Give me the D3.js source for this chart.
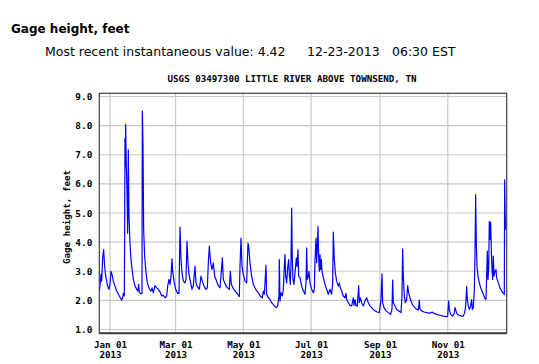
<!DOCTYPE html>
<html>
<head>
<meta charset="utf-8">
<script src="https://cdn.jsdelivr.net/npm/d3@7"></script>
<style>
  html, body { margin: 0; padding: 0; background: #fff; }
  svg { display: block; }
</style>
</head>
<body>
<svg id="chart" width="539" height="364"></svg>
<script>
// ---- data ----
const pageTitle = "Gage height, feet";
const recentLabel = "Most recent instantaneous value: 4.42";
const recentDate = "12-23-2013";
const recentTime = "06:30 EST";
const chartTitle = "USGS 03497300 LITTLE RIVER ABOVE TOWNSEND, TN";
const yAxisTitle = "Gage height, feet";

// time since 2013-01-01 00:00 UTC, in days
const daysSinceJan1 = [
  -9.6, -8.1, -7.5, -6.6, -5.7, -4.8, -3.9, -3.0, -2.1, -0.9,
  0.0, 0.9, 1.8, 3.0, 4.5, 6.0, 8.4, 10.5, 11.4, 12.0,
  12.9, 13.2, 13.5, 13.8, 14.1, 14.7, 15.3, 15.9, 16.5, 17.1,
  18.0, 18.9, 20.1, 21.0, 22.5, 24.0, 24.9, 25.8, 26.4, 27.9,
  28.8, 29.1, 29.7, 30.3, 31.2, 32.4, 33.6, 35.4, 36.9, 37.8,
  39.0, 40.5, 42.0, 43.5, 45.0, 46.5, 48.0, 49.5, 51.0, 51.9,
  53.1, 54.0, 54.9, 55.8, 56.4, 57.6, 59.1, 60.9, 62.1, 63.0,
  63.9, 64.8, 66.0, 67.5, 68.4, 69.3, 70.2, 71.1, 72.6, 73.8,
  75.0, 76.5, 77.4, 78.6, 80.4, 81.9, 83.1, 84.6, 86.4, 87.6,
  88.5, 89.4, 90.6, 91.8, 93.0, 94.2, 95.4, 96.9, 99.0, 100.2,
  101.1, 102.0, 103.8, 105.6, 107.4, 108.3, 109.2, 111.0, 113.1, 114.9,
  116.4, 117.0, 117.9, 118.8, 120.0, 121.5, 123.0, 124.2, 124.8, 126.0,
  127.5, 129.0, 131.1, 133.5, 135.6, 137.1, 138.0, 138.9, 140.4, 141.0,
  142.5, 144.0, 145.5, 147.6, 149.4, 150.9, 152.1, 152.4, 153.0, 153.9,
  155.1, 156.0, 156.9, 157.5, 158.1, 159.0, 159.9, 160.8, 161.4, 162.3,
  162.9, 163.5, 164.1, 164.7, 165.6, 166.8, 167.7, 168.3, 169.2, 169.8,
  171.0, 172.5, 174.0, 175.5, 176.4, 177.0, 177.6, 178.5, 179.1, 180.0,
  181.5, 183.0, 183.9, 184.5, 185.4, 186.0, 186.6, 187.2, 187.8, 188.4,
  189.0, 189.6, 190.2, 190.8, 192.0, 193.5, 195.0, 196.5, 198.0, 199.5,
  200.4, 201.0, 201.9, 202.8, 204.0, 205.5, 206.4, 207.3, 208.5, 210.0,
  211.5, 212.4, 213.0, 214.5, 216.0, 217.5, 219.0, 219.6, 220.5, 221.4,
  222.6, 223.8, 224.4, 225.3, 226.5, 228.0, 229.8, 231.0, 232.5, 234.0,
  235.5, 237.0, 238.5, 240.6, 242.4, 243.9, 244.8, 245.4, 246.6, 248.4,
  250.5, 252.6, 253.8, 254.4, 255.0, 256.5, 258.0, 259.8, 261.9, 262.8,
  263.4, 264.0, 264.9, 265.8, 267.0, 267.9, 268.8, 270.0, 271.5, 273.0,
  274.5, 276.0, 277.5, 278.4, 279.0, 280.5, 282.6, 285.0, 288.0, 290.1,
  291.0, 294.0, 297.0, 300.0, 303.0, 303.9, 304.8, 305.4, 306.6, 308.4,
  309.9, 310.5, 311.4, 312.6, 314.4, 316.5, 318.0, 319.2, 320.1, 321.0,
  321.6, 322.5, 323.4, 324.6, 325.5, 326.1, 327.0, 327.9, 328.5, 329.1,
  329.7, 330.3, 331.2, 332.4, 333.6, 334.8, 336.0, 337.5, 338.4, 339.0,
  339.6, 340.2, 340.8, 341.4, 342.0, 342.6, 343.2, 343.8, 344.4, 345.0,
  345.6, 346.5, 347.4, 348.0, 349.5, 351.0, 352.5, 354.0, 354.9, 355.2,
  355.8, 356.1
];
const gageHeightFt = [
  2.26, 2.89, 2.66, 3.46, 3.74, 3.17, 2.83, 2.66, 2.49, 2.38,
  2.55, 3.00, 2.89, 2.66, 2.49, 2.32, 2.15, 2.01, 2.09, 2.24,
  2.15, 4.31, 7.56, 6.60, 8.05, 6.60, 5.80, 4.31, 7.17, 4.88,
  3.97, 3.40, 3.00, 2.72, 2.49, 2.38, 2.32, 2.55, 2.26, 2.24,
  2.23, 8.51, 7.39, 4.43, 3.52, 2.95, 2.60, 2.40, 2.32, 2.43,
  2.26, 2.51, 2.43, 2.38, 2.29, 2.15, 2.17, 2.09, 2.15, 2.49,
  2.72, 2.55, 2.83, 3.43, 3.00, 2.66, 2.38, 2.24, 2.24, 4.52,
  3.40, 2.95, 2.66, 2.60, 2.72, 4.03, 3.29, 2.89, 2.60, 2.38,
  2.49, 3.17, 2.60, 2.47, 2.38, 2.83, 2.66, 2.49, 2.38, 2.43,
  3.29, 3.86, 3.29, 3.06, 3.29, 2.83, 2.72, 2.55, 2.43, 3.00,
  3.46, 2.72, 2.55, 2.43, 2.38, 3.00, 2.55, 2.40, 2.29, 2.21,
  2.13, 3.17, 4.14, 3.17, 2.89, 2.66, 2.60, 3.97, 3.86, 3.29,
  2.83, 2.55, 2.38, 2.26, 2.13, 2.09, 2.32, 2.21, 3.20, 2.21,
  2.09, 2.03, 1.92, 1.83, 1.75, 1.81, 2.15, 3.40, 1.98, 2.26,
  2.15, 2.38, 3.17, 3.57, 2.83, 2.60, 3.12, 3.40, 2.89, 2.55,
  3.29, 5.17, 3.40, 2.72, 2.55, 3.06, 3.46, 3.17, 3.74, 2.83,
  2.78, 2.49, 2.32, 2.21, 2.60, 3.80, 2.72, 2.83, 3.00, 2.60,
  2.38, 2.26, 2.38, 3.35, 4.14, 3.29, 3.86, 4.54, 3.52, 3.00,
  3.57, 3.06, 3.40, 3.00, 2.78, 2.55, 2.38, 2.21, 2.38, 2.21,
  2.60, 4.34, 3.40, 2.95, 2.66, 2.49, 2.60, 2.43, 2.32, 2.15,
  2.09, 2.24, 2.03, 1.92, 1.83, 1.81, 2.09, 1.83, 2.03, 1.81,
  1.81, 2.51, 1.92, 2.09, 1.92, 1.81, 2.01, 2.09, 1.92, 1.81,
  1.75, 1.69, 1.64, 1.60, 1.58, 2.01, 2.91, 1.92, 1.75, 1.64,
  1.58, 1.52, 1.69, 2.70, 1.92, 1.81, 1.69, 1.64, 1.58, 2.15,
  3.77, 2.83, 2.15, 1.92, 2.03, 2.51, 2.26, 2.09, 1.92, 1.81,
  1.75, 1.69, 1.67, 2.01, 1.69, 1.64, 1.60, 1.58, 1.56, 1.60,
  1.56, 1.52, 1.49, 1.46, 1.44, 1.46, 1.98, 1.69, 1.52, 1.46,
  1.56, 1.75, 1.64, 1.52, 1.49, 1.46, 1.46, 1.58, 1.81, 2.47,
  2.03, 1.81, 1.69, 1.81, 2.03, 1.69, 1.75, 2.38, 3.52, 5.63,
  3.97, 3.17, 2.83, 2.60, 2.43, 2.32, 2.21, 2.06, 2.03, 2.83,
  3.69, 2.72, 3.06, 4.71, 4.09, 4.68, 3.74, 3.06, 2.72, 3.52,
  2.83, 3.00, 3.06, 2.78, 2.60, 2.43, 2.32, 2.24, 2.21, 6.14,
  4.66, 4.43
];

const yTicks = [1, 2, 3, 4, 5, 6, 7, 8, 9];
const xTickDates = ["2013-01-01", "2013-03-01", "2013-05-01", "2013-07-01", "2013-09-01", "2013-11-01"];
const xTickMonth = ["Jan 01", "Mar 01", "May 01", "Jul 01", "Sep 01", "Nov 01"];
const xTickYear = ["2013", "2013", "2013", "2013", "2013", "2013"];
const xDomain = ["2012-12-22T09:00", "2013-12-24T01:00"];
const yDomain = [1, 9];

// ---- drawing ----
const svg = d3.select("#chart");
const frame = { left: 99.3, right: 506.7, top: 93.3, bottom: 333.3 };
const parseDT = d3.utcParse("%Y-%m-%dT%H:%M");
const parseD = d3.utcParse("%Y-%m-%d");
const jan1 = Date.UTC(2013, 0, 1);

const x = d3.scaleUtc()
  .domain(xDomain.map(parseDT))
  .range([frame.left, frame.right]);
const y = d3.scaleLinear()
  .domain(yDomain)
  .range([329.5, 96.5]);

const series = daysSinceJan1.map((d, i) => ({
  t: new Date(jan1 + d * 864e5),
  v: gageHeightFt[i]
}));

const monoFont = "'DejaVu Sans Mono', 'Liberation Mono', monospace";
const sansFont = "'DejaVu Sans', Verdana, sans-serif";

// header
svg.append("text")
  .attr("x", 11).attr("y", 33.3)
  .attr("font-family", sansFont).attr("font-weight", "bold")
  .attr("font-size", 12).attr("fill", "#000")
  .text(pageTitle);

const hdr = svg.append("g")
  .attr("font-family", sansFont).attr("font-size", 12.5).attr("fill", "#000");
hdr.append("text").attr("x", 45).attr("y", 56).text(recentLabel);
hdr.append("text").attr("x", 307).attr("y", 56).text(recentDate);
hdr.append("text").attr("x", 392).attr("y", 56).text(recentTime);

svg.append("text")
  .attr("x", 292).attr("y", 81.5)
  .attr("text-anchor", "middle")
  .attr("font-family", monoFont).attr("font-weight", "bold")
  .attr("font-size", 9.2).attr("fill", "#000")
  .text(chartTitle);

// gridlines
const grid = svg.append("g").attr("stroke", "#c8c8c8").attr("stroke-width", 1.2);
grid.selectAll("line.h").data(yTicks).join("line")
  .attr("x1", frame.left).attr("x2", frame.right)
  .attr("y1", d => y(d)).attr("y2", d => y(d));
grid.selectAll("line.v").data(xTickDates).join("line")
  .attr("x1", d => x(parseD(d))).attr("x2", d => x(parseD(d)))
  .attr("y1", frame.top).attr("y2", frame.bottom);

// data line
const clipId = "plotclip";
svg.append("clipPath").attr("id", clipId)
  .append("rect")
  .attr("x", frame.left).attr("y", frame.top)
  .attr("width", frame.right - frame.left).attr("height", frame.bottom - frame.top);

svg.append("path")
  .datum(series)
  .attr("clip-path", `url(#${clipId})`)
  .attr("fill", "none")
  .attr("stroke", "#0000ff")
  .attr("stroke-width", 1.2)
  .attr("stroke-linejoin", "round")
  .attr("d", d3.line().x(d => x(d.t)).y(d => y(d.v)));

// frame
svg.append("rect")
  .attr("x", frame.left).attr("y", frame.top)
  .attr("width", frame.right - frame.left).attr("height", frame.bottom - frame.top)
  .attr("fill", "none").attr("stroke", "#404040").attr("stroke-width", 1.2);
svg.append("line")
  .attr("x1", frame.left).attr("x2", frame.right)
  .attr("y1", frame.bottom).attr("y2", frame.bottom)
  .attr("stroke", "#404040").attr("stroke-width", 2);

// y axis labels via d3 axis
const yAxis = d3.axisLeft(y).tickValues(yTicks).tickFormat(d3.format(".1f")).tickSize(0).tickPadding(7);
const gy = svg.append("g").attr("transform", `translate(${frame.left},0)`).call(yAxis);
gy.select(".domain").remove();
gy.selectAll("text")
  .attr("font-family", monoFont).attr("font-weight", "bold")
  .attr("font-size", 9.4).attr("fill", "#000");

// x axis labels
const xAxis = d3.axisBottom(x)
  .tickValues(xTickDates.map(parseD))
  .tickFormat((d, i) => xTickMonth[i])
  .tickSize(0).tickPadding(6);
const gx = svg.append("g").attr("transform", `translate(0,${frame.bottom})`).call(xAxis);
gx.select(".domain").remove();
gx.selectAll("text")
  .attr("font-family", monoFont).attr("font-weight", "bold")
  .attr("font-size", 9.2).attr("fill", "#000")
  .attr("dy", null).attr("y", 14.3);
gx.selectAll(".tick").append("text")
  .attr("y", 24.7)
  .attr("text-anchor", "middle")
  .attr("font-family", monoFont).attr("font-weight", "bold")
  .attr("font-size", 9.2).attr("fill", "#000")
  .text((d, i) => xTickYear[i]);

// y axis title
svg.append("text")
  .attr("transform", "translate(69.5,217) rotate(-90)")
  .attr("text-anchor", "middle")
  .attr("font-family", monoFont).attr("font-weight", "bold")
  .attr("font-size", 9.2).attr("fill", "#000")
  .text(yAxisTitle);
</script>
</body>
</html>
